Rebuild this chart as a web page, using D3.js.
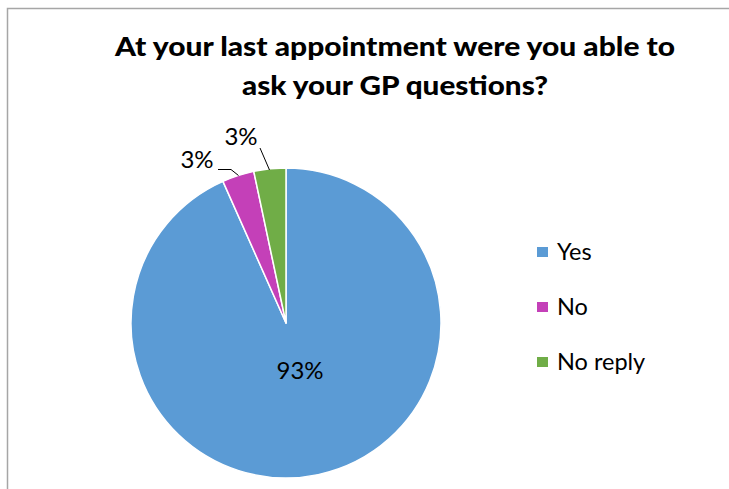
<!DOCTYPE html>
<html><head><meta charset="utf-8">
<script src="https://cdn.jsdelivr.net/npm/d3@7"></script>
<style>body{margin:0;background:#fff}svg{display:block}</style>
</head><body>
<script>
const categories = ["Yes", "No", "No reply"];
const counts = [28, 1, 1];
const colors = ["#5B9BD5", "#C440B8", "#70AD47"];
const titleLines = ["At your last appointment were you able to", "ask your GP questions?"];

const W = 729, H = 489;
const svg = d3.select("body").append("svg").attr("width", W).attr("height", H);
svg.append("rect").attr("width", W).attr("height", H).attr("fill", "#fff");
svg.append("rect").attr("x", 7.5).attr("y", 8.5).attr("width", 900).attr("height", 700)
  .attr("fill", "none").attr("stroke", "#a6a6a6").attr("stroke-width", 1.5);

const font = "Lato, 'Open Sans', sans-serif";
const tl = [{y: 56, len: 560}, {y: 95, len: 306}];
svg.selectAll("text.title").data(titleLines).join("text").attr("class", "title")
  .attr("x", 395).attr("y", (d, i) => tl[i].y).attr("text-anchor", "middle")
  .attr("font-family", font).attr("font-weight", 900).attr("font-size", 26)
  .attr("textLength", (d, i) => tl[i].len).attr("lengthAdjust", "spacingAndGlyphs")
  .attr("fill", "#000").text(d => d);

const cx = 286, cy = 323, R = 155;
const total = d3.sum(counts);
const pie = d3.pie().sort(null).value(d => d).startAngle(0).endAngle(2 * Math.PI);
const arcs = pie(counts);
const arc = d3.arc().innerRadius(0).outerRadius(R);
const g = svg.append("g").attr("transform", `translate(${cx},${cy})`);
g.selectAll("path").data(arcs).join("path")
  .attr("d", arc).attr("fill", (d, i) => colors[i])
  .attr("stroke", "#fff").attr("stroke-width", 1.5).attr("stroke-linejoin", "round");

const fmt = v => Math.round(v / total * 100) + "%";
// Yes label inside
g.append("text").attr("x", 14).attr("y", 56).attr("text-anchor", "middle")
  .attr("font-family", font).attr("font-size", 24).attr("fill", "#000").text(fmt(counts[0]));

// outside labels with leaders
const labelPos = [null, {x: 197, y: 168, line: [[218, 169.5], [231, 169.5], [238.5, 175.5]]},
                        {x: 241, y: 145, line: [[260, 148], [269.5, 170]]}];
[1, 2].forEach(i => {
  const p = labelPos[i];
  svg.append("text").attr("x", p.x).attr("y", p.y).attr("text-anchor", "middle")
    .attr("font-family", font).attr("font-size", 24).attr("fill", "#000").text(fmt(counts[i]));
  svg.append("path").attr("d", d3.line()(p.line)).attr("fill", "none")
    .attr("stroke", "#000").attr("stroke-width", 1);
});

// legend
const lg = svg.append("g");
const ly = [252, 307, 362];
categories.forEach((c, i) => {
  lg.append("rect").attr("x", 537).attr("y", ly[i] - 5).attr("width", 11).attr("height", 10).attr("fill", colors[i]);
  lg.append("text").attr("x", 557).attr("y", ly[i] + 7.5).attr("font-family", font)
    .attr("font-size", 23.5).attr("fill", "#000").text(c);
});
</script>
</body></html>
